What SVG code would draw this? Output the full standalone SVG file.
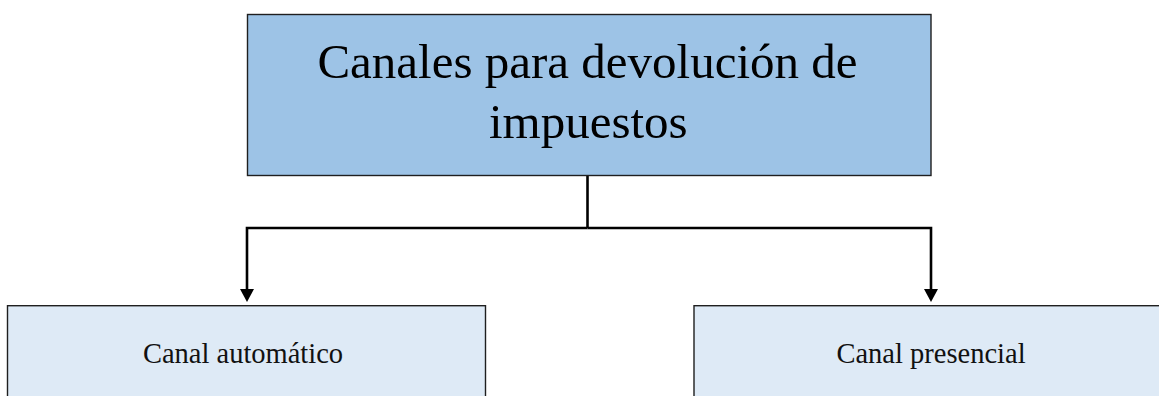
<svg xmlns="http://www.w3.org/2000/svg" width="1159" height="396" viewBox="0 0 1159 396">
  <style>
    .box { stroke: #1f1f1f; stroke-width: 1.4; }
    .top { fill: #9dc3e6; }
    .sub { fill: #deeaf6; }
    .conn { fill: none; stroke: #000; stroke-width: 2.6; }
    .t { font-family: "Liberation Serif", "Times New Roman", serif; fill: #000; text-anchor: middle; }
    .big { font-size: 49px; }
    .small { font-size: 28.5px; fill: #111; }
  </style>
  <defs>
    <marker id="arrow" markerUnits="userSpaceOnUse" viewBox="0 0 13 14" markerWidth="13" markerHeight="14" refX="0" refY="7" orient="auto">
      <path d="M0,0 L13,7 L0,14 Z" fill="#000"/>
    </marker>
  </defs>
  <rect width="1159" height="396" fill="#ffffff"/>
  <g id="connectors">
    <path class="conn" d="M587.5 176 V228"/>
    <path class="conn" d="M587.5 228 H247 V289" marker-end="url(#arrow)"/>
    <path class="conn" d="M587.5 228 H931 V289" marker-end="url(#arrow)"/>
  </g>
  <g id="node-root">
    <rect class="box top" x="247.5" y="14.5" width="683.5" height="161"/>
    <text class="t big" x="587.5" y="78.3">Canales para devolución de</text>
    <text class="t big" x="588.3" y="138.3">impuestos</text>
  </g>
  <g id="node-automatico">
    <rect class="box sub" x="7.5" y="305.7" width="478" height="110"/>
    <text class="t small" x="243" y="362.7">Canal automático</text>
  </g>
  <g id="node-presencial">
    <rect class="box sub" x="694" y="305.7" width="478" height="110"/>
    <text class="t small" x="931" y="362.7">Canal presencial</text>
  </g>
</svg>
